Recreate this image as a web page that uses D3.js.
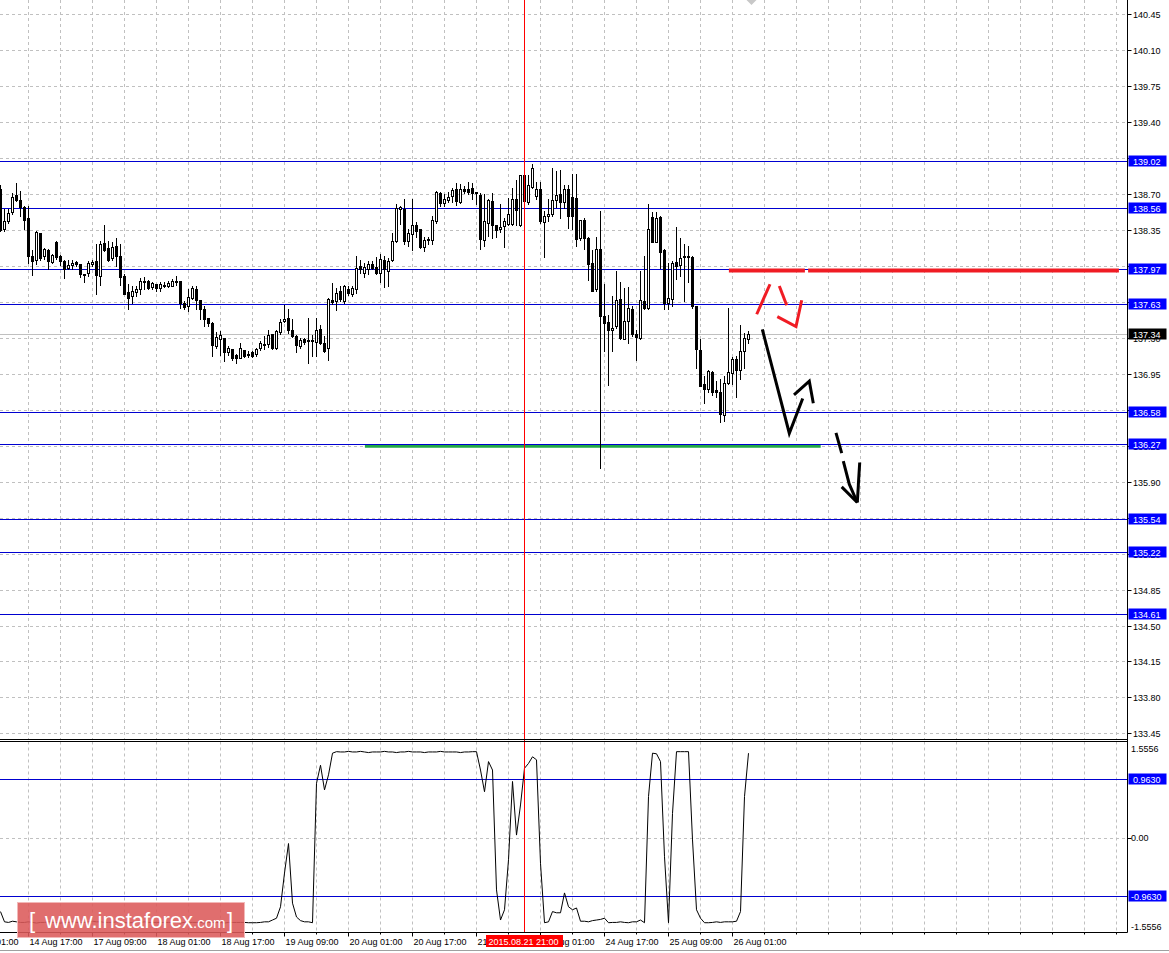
<!DOCTYPE html>
<html><head><meta charset="utf-8">
<script src="https://cdn.jsdelivr.net/npm/d3@7"></script>
<style>html,body{margin:0;padding:0;background:#fff;overflow:hidden}</style>
</head><body>
<svg id="c" width="1169" height="953"></svg>
<script>
// ---------------- DATA (H1 candles) ----------------
const open = [138.75,138.36,138.44,138.52,138.69,138.64,138.57,138.47,138.10,138.06,
138.32,138.10,138.15,138.04,138.23,138.10,138.05,137.98,138.01,138.04,
138.02,137.925,137.93,138.02,138.05,137.90,138.22,138.17,138.08,138.19,
138.10,137.90,137.75,137.71,137.75,137.77,137.84,137.85,137.79,137.82,
137.78,137.80,137.80,137.80,137.84,137.85,137.64,137.61,137.69,137.77,
137.67,137.58,137.49,137.44,137.22,137.29,137.30,137.16,137.19,137.13,
137.10,137.18,137.14,137.16,137.14,137.20,137.23,137.24,137.34,137.20,
137.36,137.46,137.49,137.38,137.32,137.22,137.29,137.28,137.27,137.26,
137.39,137.25,137.20,137.67,137.66,137.76,137.66,137.77,137.73,137.77,
138.00,137.93,137.97,138.02,137.99,137.93,138.06,137.95,138.06,138.24,
138.55,138.55,138.24,138.31,138.40,138.36,138.18,138.25,138.25,138.44,
138.71,138.61,138.64,138.68,138.75,138.62,138.75,138.75,138.76,138.72,
138.69,138.25,138.42,138.63,138.40,138.36,138.39,138.41,138.41,138.65,
138.40,138.88,138.62,138.77,138.68,138.75,138.43,138.49,138.50,138.64,
138.70,138.62,138.75,138.67,138.66,138.27,138.45,138.27,138.03,137.77,
138.16,137.51,137.45,137.38,137.41,137.68,137.29,137.46,137.58,137.34,
137.30,137.66,137.59,138.48,138.23,138.48,138.15,137.64,137.68,138.04,
138.01,138.09,138.09,138.09,137.61,137.18,136.85,136.80,136.97,136.79,
136.77,136.55,136.86,136.96,137.09,136.99,137.17,137.29];
const high = [138.79,138.55,138.55,138.71,138.81,138.73,138.58,138.58,138.15,138.34,
138.32,138.17,138.16,138.12,138.24,138.11,138.06,138.06,138.06,138.05,
138.02,137.925,138.05,138.06,138.21,138.24,138.40,138.24,138.23,138.27,
138.21,137.92,137.82,137.80,137.80,137.88,137.89,137.86,137.84,137.82,
137.84,137.84,137.85,137.87,137.90,137.85,137.66,137.77,137.80,137.80,
137.67,137.61,137.49,137.45,137.36,137.37,137.30,137.22,137.19,137.14,
137.25,137.18,137.17,137.17,137.20,137.27,137.32,137.38,137.34,137.38,
137.48,137.62,137.58,137.48,137.33,137.30,137.30,137.49,137.33,137.49,
137.42,137.32,137.69,137.83,137.78,137.80,137.81,137.80,137.80,138.10,
138.06,138.03,138.05,138.05,138.09,138.12,138.10,138.08,138.32,138.60,
138.58,138.65,138.36,138.65,138.43,138.36,138.28,138.28,138.49,138.73,
138.72,138.70,138.72,138.76,138.81,138.80,138.78,138.82,138.81,138.72,
138.71,138.70,138.65,138.71,138.40,138.60,138.47,138.66,138.76,138.84,
138.88,138.89,138.88,138.99,138.82,138.82,138.53,138.65,138.95,138.92,
138.93,138.79,138.79,138.89,138.89,138.45,138.47,138.28,138.15,138.28,
138.53,137.82,137.52,137.71,137.95,137.84,137.78,137.79,137.61,137.38,
137.95,138.10,138.60,138.52,138.52,138.49,138.16,138.03,138.05,138.38,
138.27,138.21,138.19,138.10,137.61,137.29,136.93,136.99,136.98,136.88,
136.90,136.93,137.59,137.11,137.12,137.42,137.35,137.37];
const low = [138.34,138.34,138.42,138.50,138.63,138.49,138.36,138.03,137.91,138.02,
138.06,138.07,137.97,138.03,138.07,138.01,137.88,137.97,137.97,138.00,
137.89,137.84,137.90,138.00,137.73,137.81,138.14,138.05,138.06,138.00,
137.81,137.73,137.58,137.64,137.71,137.73,137.77,137.77,137.77,137.76,
137.76,137.79,137.79,137.80,137.81,137.59,137.58,137.56,137.68,137.58,
137.48,137.41,137.41,137.12,137.20,137.13,137.07,137.13,137.08,137.05,
137.10,137.11,137.11,137.11,137.12,137.18,137.19,137.21,137.19,137.19,
137.34,137.45,137.35,137.31,137.16,137.20,137.24,137.05,137.12,137.12,
137.24,137.16,137.08,137.63,137.57,137.66,137.64,137.72,137.71,137.74,
137.93,137.89,137.92,137.97,137.92,137.84,137.79,137.80,138.05,138.23,
138.41,138.21,138.19,138.15,138.28,138.17,138.14,138.21,138.21,138.42,
138.58,138.58,138.62,138.62,138.59,138.61,138.71,138.70,138.65,138.60,
138.16,138.19,138.29,138.27,138.28,138.33,138.18,138.40,138.40,138.40,
138.39,138.62,138.60,138.76,138.65,138.42,138.09,138.44,138.49,138.57,
138.47,138.56,138.37,138.36,138.19,138.25,138.16,137.86,137.76,137.76,
136.03,137.17,136.84,137.17,137.40,137.29,137.29,137.25,137.32,137.08,
137.29,137.58,137.58,138.23,138.23,137.98,137.58,137.58,137.61,137.87,
137.90,137.66,137.84,137.59,137.01,136.83,136.67,136.77,136.74,136.72,
136.48,136.49,136.85,136.85,136.72,136.90,137.01,137.25];
const close = [138.35,138.44,138.51,138.67,138.64,138.57,138.45,138.10,138.05,138.33,
138.08,138.16,138.05,138.11,138.09,138.05,137.97,138.01,138.03,138.02,
137.92,137.915,138.03,138.04,137.91,138.21,138.15,138.06,138.18,138.10,
137.89,137.73,137.69,137.76,137.77,137.85,137.85,137.78,137.83,137.78,
137.82,137.81,137.83,137.85,137.85,137.64,137.60,137.70,137.78,137.67,
137.58,137.48,137.44,137.23,137.31,137.33,137.16,137.20,137.10,137.10,
137.20,137.12,137.135,137.12,137.19,137.25,137.24,137.33,137.20,137.37,
137.45,137.48,137.38,137.32,137.23,137.28,137.26,137.27,137.28,137.38,
137.25,137.17,137.68,137.65,137.74,137.68,137.80,137.74,137.78,137.98,
137.97,137.99,138.02,137.98,137.93,138.07,137.97,138.05,138.24,138.56,
138.57,138.24,138.32,138.40,138.34,138.18,138.25,138.26,138.45,138.72,
138.61,138.65,138.67,138.74,138.63,138.75,138.73,138.72,138.71,138.71,
138.26,138.44,138.64,138.40,138.35,138.38,138.44,138.50,138.65,138.54,
138.88,138.63,138.79,138.95,138.75,138.44,138.49,138.50,138.64,138.69,
138.62,138.75,138.49,138.49,138.26,138.45,138.27,138.02,137.76,138.16,
137.51,137.44,137.38,137.40,137.67,137.30,137.46,137.59,137.34,137.31,
137.67,137.59,138.36,138.23,138.47,138.13,137.64,137.69,138.03,138.00,
138.08,138.10,138.10,137.61,137.19,136.83,136.80,136.98,136.77,136.77,
136.56,136.86,136.97,137.09,136.99,137.17,137.30,137.34];
// oscillator (lower pane)
const osc = [-1.23,-1.40,-1.41,-1.39,-1.40,-1.41,-1.41,-1.40,-1.41,-1.42,
-1.41,-1.41,-1.40,-1.41,-1.41,-1.42,-1.41,-1.41,-1.40,-1.41,
-1.41,-1.41,-1.40,-1.39,-1.40,-1.40,-1.41,-1.41,-1.41,-1.40,
-1.41,-1.41,-1.42,-1.41,-1.41,-1.41,-1.40,-1.41,-1.41,-1.41,
-1.41,-1.41,-1.41,-1.41,-1.41,-1.42,-1.41,-1.41,-1.41,-1.41,
-1.41,-1.42,-1.41,-1.41,-1.41,-1.41,-1.42,-1.41,-1.41,-1.41,
-1.41,-1.41,-1.415,-1.415,-1.415,-1.41,-1.40,-1.40,-1.37,-1.34,
-1.15,-0.59,-0.10,-1.09,-1.32,-1.38,-1.40,-1.40,-1.415,0.90,
1.20,0.79,1.04,1.40,1.425,1.42,1.42,1.43,1.42,1.42,
1.43,1.42,1.41,1.42,1.42,1.42,1.43,1.42,1.42,1.41,
1.42,1.42,1.43,1.42,1.42,1.42,1.41,1.42,1.42,1.42,
1.43,1.42,1.42,1.42,1.42,1.41,1.42,1.42,1.425,1.425,
1.12,0.76,1.26,1.12,-0.87,-1.37,-1.20,-0.37,0.93,0.04,
0.54,1.15,1.23,1.34,1.29,-0.43,-1.415,-1.40,-1.23,-1.25,
-1.25,-0.92,-1.15,-1.20,-1.17,-1.39,-1.39,-1.40,-1.38,-1.37,
-1.36,-1.34,-1.415,-1.41,-1.41,-1.40,-1.41,-1.415,-1.40,-1.40,
-1.37,-1.415,0.68,1.40,1.39,1.26,-0.32,-1.415,0.40,1.425,
1.425,1.425,1.425,-0.04,-1.20,-1.34,-1.415,-1.415,-1.41,-1.40,
-1.41,-1.40,-1.40,-1.40,-1.39,-1.23,0.68,1.40];

const priceTicks = [140.45,140.10,139.75,139.40,139.05,138.70,138.35,138.00,137.65,137.30,136.95,136.60,136.25,135.90,135.55,135.20,134.85,134.50,134.15,133.80,133.45];
const levels = [139.02,138.56,137.97,137.63,136.58,136.27,135.54,135.22,134.61];
const lastPrice = 137.34;
const oscLevels = [0.9630,-0.9630];
const oscTicks = [1.5556,0,-1.5556];
const oscTickText = ["1.5556","0.00","-1.5556"];
const timeLabels = ["14 Aug 01:00","14 Aug 17:00","17 Aug 09:00","18 Aug 01:00","18 Aug 17:00","19 Aug 09:00","20 Aug 01:00","20 Aug 17:00","21 Aug 09:00","24 Aug 01:00","24 Aug 17:00","25 Aug 09:00","26 Aug 01:00"];
const timeIdx = [-9,7,23,39,55,71,87,103,119,135,151,167,183];
const markerIdx = 131, markerText = "2015.08.21 21:00";
// hand-drawn annotations in (bar index, price)
const redLevel = {price:137.955, segs:[[182.1,201.1],[201.9,279.6]]};
const greenLevel = {price:136.245, from:91.1, to:205.05};
const redMarks = [
  [[189.05,137.529],[192.375,137.821]],
  [[194.7,137.804],[196.55,137.616]],
  [[194.2,137.506],[198.875,137.409],[200.3,137.665]]];
const blackMarks = [
  [[190.45,137.383],[197.2,136.371],[200.55,136.709]],
  [[198.375,136.744],[202.2,136.877],[203.2,136.663]],
  [[208.875,136.374],[210.3,136.177]],
  [[210.7,136.099],[212.2,135.875],[214.2,135.697]],
  [[210.3,135.849],[214.2,135.697]],
  [[214.8,136.086],[214.2,135.697]]];

// ---------------- DRAW ----------------
const svg = d3.select('#c');
const axisX = 1127.5, mainBottom = 739.5, oscTop = 741.5, oscBottom = 932.5;
const FONT = '"Liberation Sans", Arial, sans-serif';
const x = d3.scaleLinear().domain([0,187]).range([0.5,748.5]);
const y = d3.scaleLinear().domain([133.45,140.45]).range([733.4,14.1]);
const yi = d3.scaleLinear().domain([-1.5556,1.5556]).range([931.2,743.8]);

svg.append('rect').attr('width',1169).attr('height',953).attr('fill','#fff');
const defs = svg.append('defs');
defs.append('clipPath').attr('id','cm').append('rect').attr('x',0).attr('y',0).attr('width',axisX).attr('height',mainBottom);
defs.append('clipPath').attr('id','ci').append('rect').attr('x',0).attr('y',oscTop).attr('width',axisX).attr('height',oscBottom-oscTop);

const grid = svg.append('g').attr('stroke','#c0c0c0').attr('stroke-dasharray','3,3').attr('stroke-width',1);
const gridIdx = d3.range(0,36).map(k=>7+8*k).filter(i=>x(i)<axisX-2);
gridIdx.forEach(i=>{
  const gx = Math.round(x(i)-0.5)+0.5;
  grid.append('line').attr('x1',gx).attr('x2',gx).attr('y1',0).attr('y2',mainBottom);
  grid.append('line').attr('x1',gx).attr('x2',gx).attr('y1',oscTop).attr('y2',oscBottom);
});
priceTicks.forEach(p=>{
  const gy = Math.round(y(p))+0.5;
  grid.append('line').attr('x1',0).attr('x2',axisX).attr('y1',gy).attr('y2',gy);
});
grid.append('line').attr('x1',0).attr('x2',axisX).attr('y1',Math.round(yi(0))+0.5).attr('y2',Math.round(yi(0))+0.5);

const main = svg.append('g').attr('clip-path','url(#cm)');
main.append('line').attr('x1',0).attr('x2',axisX).attr('y1',Math.round(y(lastPrice))+0.5).attr('y2',Math.round(y(lastPrice))+0.5).attr('stroke','#c0c0c0');
main.append('line').attr('x1',x(greenLevel.from)).attr('x2',x(greenLevel.to)).attr('y1',y(greenLevel.price)).attr('y2',y(greenLevel.price)).attr('stroke','#21a846').attr('stroke-width',3);
levels.forEach(p=>{
  const ly = Math.round(y(p))+0.5;
  main.append('line').attr('x1',0).attr('x2',axisX).attr('y1',ly).attr('y2',ly).attr('stroke','#0000d0').attr('stroke-width',1);
});
redLevel.segs.forEach(s=>{
  main.append('line').attr('x1',x(s[0])).attr('x2',x(s[1])).attr('y1',y(redLevel.price)).attr('y2',y(redLevel.price)).attr('stroke','#f01c24').attr('stroke-width',4);
});

const n = Math.min(open.length,high.length,low.length,close.length);
const cg = main.append('g');
for(let i=0;i<n;i++){
  const cx = x(i);
  cg.append('line').attr('x1',cx).attr('x2',cx).attr('y1',Math.round(y(high[i]))).attr('y2',Math.round(y(low[i]))+1).attr('stroke','#000').attr('stroke-width',1);
  const top = Math.round(y(Math.max(open[i],close[i])));
  const bot = Math.round(y(Math.min(open[i],close[i])));
  const bull = close[i] >= open[i];
  cg.append('rect').attr('x',cx-1).attr('y',top+0.5).attr('width',2).attr('height',Math.max(0,bot-top))
    .attr('fill',bull?'#fff':'#000').attr('stroke','#000').attr('stroke-width',1);
}

const ln = d3.line().x(d=>x(d[0])).y(d=>y(d[1]));
redMarks.forEach(m=>main.append('path').attr('d',ln(m)).attr('fill','none').attr('stroke','#f01c24').attr('stroke-width',3));
blackMarks.forEach(m=>main.append('path').attr('d',ln(m)).attr('fill','none').attr('stroke','#000').attr('stroke-width',3));

const ind = svg.append('g').attr('clip-path','url(#ci)');
oscLevels.forEach(v=>{
  const ly = Math.round(yi(v))+0.5;
  ind.append('line').attr('x1',0).attr('x2',axisX).attr('y1',ly).attr('y2',ly).attr('stroke','#0000d0');
});
const oline = d3.line().x((d,i)=>x(i)).y(d=>yi(d));
ind.append('path').attr('d',oline(osc)).attr('fill','none').attr('stroke','#000').attr('stroke-width',1);

svg.append('line').attr('x1',x(markerIdx)).attr('x2',x(markerIdx)).attr('y1',0).attr('y2',oscBottom).attr('stroke','#ff0000').attr('stroke-width',1);

const ax = svg.append('g').attr('stroke','#000').attr('stroke-width',1);
ax.append('line').attr('x1',0).attr('x2',axisX).attr('y1',mainBottom).attr('y2',mainBottom);
ax.append('line').attr('x1',0).attr('x2',axisX).attr('y1',oscTop).attr('y2',oscTop);
ax.append('line').attr('x1',0).attr('x2',axisX).attr('y1',oscBottom).attr('y2',oscBottom);
ax.append('line').attr('x1',axisX).attr('x2',axisX).attr('y1',0).attr('y2',oscBottom);
svg.append('line').attr('x1',0).attr('x2',1169).attr('y1',950.5).attr('y2',950.5).attr('stroke','#a0a0a0');

svg.append('path').attr('d',`M${x(187)-2},0 L${x(187)+8},0 L${x(187)+3},5 Z`).attr('fill','#c8c8c8');

const lab = svg.append('g').attr('font-family',FONT).attr('font-size','9px');
priceTicks.forEach(p=>{
  const ty = Math.round(y(p))+0.5;
  ax.append('line').attr('x1',axisX).attr('x2',axisX+4).attr('y1',ty).attr('y2',ty);
  lab.append('text').attr('x',1133).attr('y',ty+3.5).attr('fill','#000').text(p.toFixed(2));
});
function box(val,text,bg){
  const by = Math.round(val)+0.5;
  lab.append('rect').attr('x',1128.5).attr('y',by-6).attr('width',38).attr('height',11).attr('fill',bg);
  lab.append('text').attr('x',1133).attr('y',by+3.5).attr('fill','#fff').text(text);
}
levels.forEach(p=>box(y(p),p.toFixed(2),'#0000ff'));
box(y(lastPrice),lastPrice.toFixed(2),'#000');
oscTicks.forEach((v,k)=>{
  let ty = yi(v);
  if(k===0) ty = 748; if(k===2) ty = 926;
  lab.append('text').attr('x',1131).attr('y',ty+3.5).attr('fill','#000').text(oscTickText[k]);
});
ax.append('line').attr('x1',axisX).attr('x2',axisX+4).attr('y1',Math.round(yi(0))+0.5).attr('y2',Math.round(yi(0))+0.5);
oscLevels.forEach(v=>{
  const by = Math.round(yi(v))+0.5;
  lab.append('rect').attr('x',1128.5).attr('y',by-6).attr('width',38).attr('height',11).attr('fill','#0000ff');
  lab.append('text').attr('x',v<0?1131:1133).attr('y',by+3.5).attr('fill','#fff').text(v.toFixed(4));
});

timeIdx.forEach((ti,k)=>{
  const tx = Math.round(x(ti)-0.5)+0.5;
  ax.append('line').attr('x1',tx).attr('x2',tx).attr('y1',oscBottom).attr('y2',oscBottom+4);
  lab.append('text').attr('x',tx+1).attr('y',944.5).attr('fill','#000').text(timeLabels[k]);
});
gridIdx.forEach(i=>{
  const tx = Math.round(x(i)-0.5)+0.5;
  ax.append('line').attr('x1',tx).attr('x2',tx).attr('y1',oscBottom).attr('y2',oscBottom+2);
});
const mx = x(markerIdx);
lab.append('rect').attr('x',mx-38.5).attr('y',935).attr('width',77).attr('height',12).attr('fill','#ff0000');
lab.append('text').attr('x',mx-36).attr('y',944.5).attr('fill','#fff').text(markerText);

const wm = svg.append('g');
wm.append('rect').attr('x',17.5).attr('y',902.5).attr('width',227).attr('height',35).attr('fill','#dc5a5a').attr('fill-opacity',0.88).attr('stroke','#f2b8b8').attr('stroke-width',1);
const wt = wm.append('text').attr('y',928).attr('fill','#fff').attr('font-family','"Liberation Sans", Arial, sans-serif');
wt.append('tspan').attr('x',29).attr('font-size','22px').text('[');
wt.append('tspan').attr('x',45).attr('font-size','22px').text('www.instaforex');
wt.append('tspan').attr('x',193).attr('font-size','15px').text('.com');
wt.append('tspan').attr('x',227).attr('font-size','22px').text(']');
</script>
</body></html>
